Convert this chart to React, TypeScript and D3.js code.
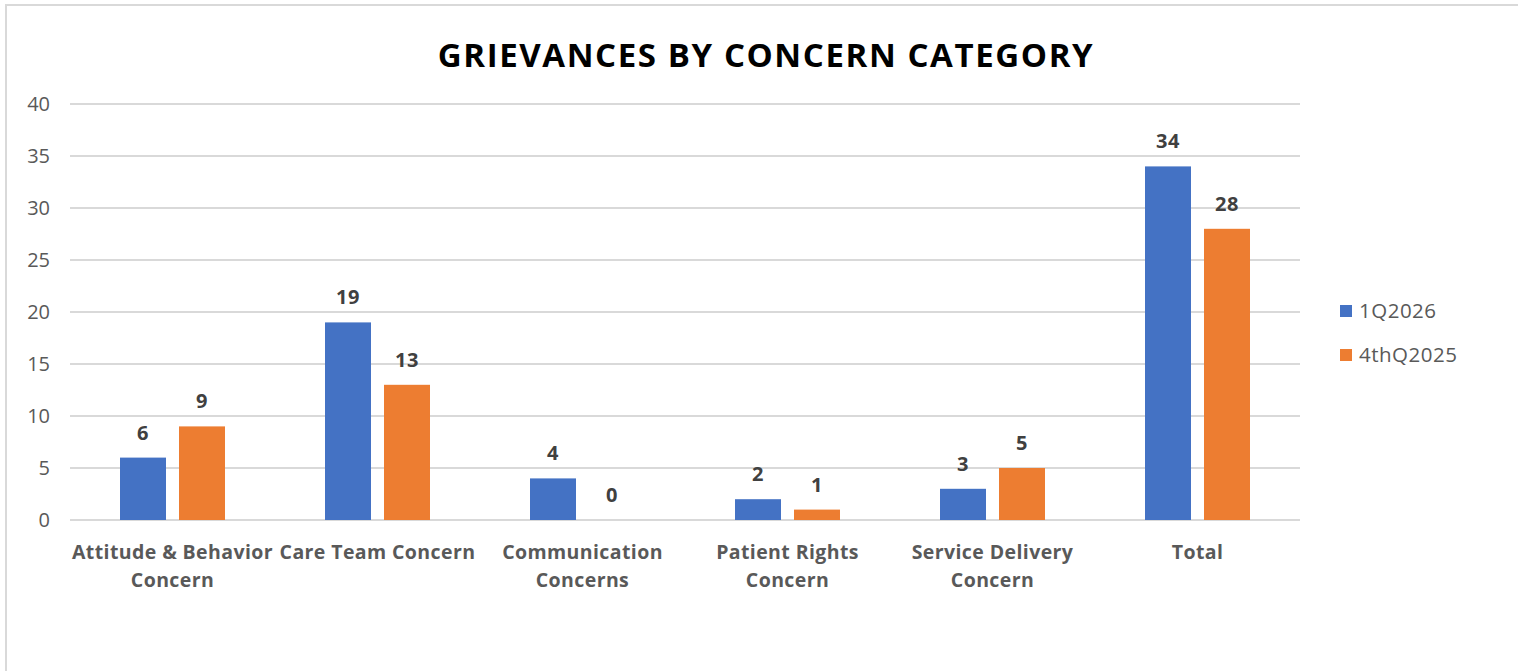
import React from "react";
import * as d3 from "d3";

const categories = [
  ["Attitude & Behavior", "Concern"],
  ["Care Team Concern"],
  ["Communication", "Concerns"],
  ["Patient Rights", "Concern"],
  ["Service Delivery", "Concern"],
  ["Total"],
];
const seriesNames = ["1Q2026", "4thQ2025"];
const q1_2026 = [6, 19, 4, 2, 3, 34];
const q4_2025 = [9, 13, 0, 1, 5, 28];
const yTicks = [0, 5, 10, 15, 20, 25, 30, 35, 40];
const colors = ["#4472C4", "#ED7D31"];
const title = "GRIEVANCES BY CONCERN CATEGORY";

export default function App() {
  const W = 1518, H = 671;
  const left = 70, right = 1300, top = 104, bottom = 520;
  const x = d3.scaleBand<number>().domain(d3.range(categories.length)).range([left, right]);
  const y = d3.scaleLinear().domain([0, 40]).range([bottom, top]);
  const series = [q1_2026, q4_2025];
  const barW = 46, gap = 13;
  const font = "'Open Sans', 'Liberation Sans', sans-serif";
  return (
    <svg width={W} height={H} style={{ position: "absolute", left: 0, top: 0 }} fontFamily={font}>
      <rect x={0} y={0} width={W} height={H} fill="#fff" />
      <rect x={6} y={5} width={W + 10} height={H + 10} fill="none" stroke="#d9d9d9" strokeWidth={2} />
      <text x={766} y={67} textAnchor="middle" fontSize={33} fontWeight="bold" fill="#000" letterSpacing={1.6}>{title}</text>
      {yTicks.map((t) => (
        <g key={t}>
          <line x1={left} x2={right} y1={y(t)} y2={y(t)} stroke="#d9d9d9" strokeWidth={2} />
          <text x={50} y={y(t)} dy="0.35em" textAnchor="end" fontSize={20} fill="#595959">{t}</text>
        </g>
      ))}
      {series.map((vals, si) =>
        vals.map((v, ci) => {
          const cx = (x(ci) as number) + x.bandwidth() / 2;
          const bx = si === 0 ? cx - gap / 2 - barW : cx + gap / 2;
          return (
            <g key={`${si}-${ci}`}>
              {v > 0 && <rect x={bx} y={y(v)} width={barW} height={y(0) - y(v)} fill={colors[si]} />}
              <text x={bx + barW / 2} y={y(v) - 18} textAnchor="middle" fontSize={20} fontWeight="bold" fill="#404040" letterSpacing={0.5}>{v}</text>
            </g>
          );
        })
      )}
      {categories.map((lines, ci) => {
        const cx = (x(ci) as number) + x.bandwidth() / 2;
        return (
          <text key={ci} textAnchor="middle" fontSize={19.5} fontWeight="bold" fill="#595959" letterSpacing={0.4}>
            {lines.map((l, li) => (
              <tspan key={li} x={cx} y={559 + li * 28}>{l}</tspan>
            ))}
          </text>
        );
      })}
      {seriesNames.map((n, i) => (
        <g key={n}>
          <rect x={1340} y={305 + i * 44} width={12} height={12} fill={colors[i]} />
          <text x={1359} y={311 + i * 44} dy="0.35em" fontSize={20.5} fill="#595959" letterSpacing={0.5}>{n}</text>
        </g>
      ))}
    </svg>
  );
}
